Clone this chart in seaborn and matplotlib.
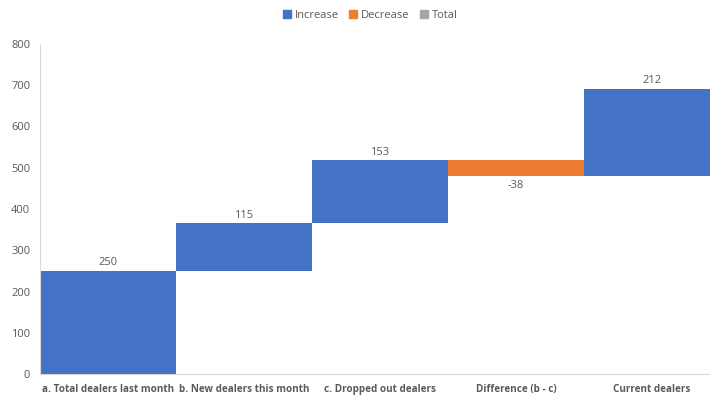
import numpy as np
import pandas as pd
import matplotlib
matplotlib.use("Agg")
import matplotlib.pyplot as plt
from matplotlib.lines import Line2D
import seaborn as sns

# Waterfall steps
categories = ["a. Total dealers last month", "b. New dealers this month",
              "c. Dropped out dealers", "Difference (b - c)", "Current dealers"]
changes = [250, 115, 153, -38, 212]
y_ticks = [0, 100, 200, 300, 400, 500, 600, 700, 800]

BLUE = "#4472C4"
ORANGE = "#ED7D31"
GRAY = "#A5A5A5"
TEXT = "#595959"

sns.set_theme(style="white")
plt.rcParams["font.family"] = ["Open Sans", "DejaVu Sans"]

changes_arr = np.array(changes, dtype=float)
bottoms = np.concatenate([[0.0], np.cumsum(changes_arr)[:-1]])
face = [BLUE if v >= 0 else ORANGE for v in changes_arr]
df = pd.DataFrame({"step": categories, "change": changes_arr})

fig = plt.figure(figsize=(7.10, 3.96), dpi=100)
ax = fig.add_axes([40 / 710, 22 / 396, 680 / 710, 330 / 396])

sns.barplot(data=df, x="step", y="change", order=categories, ax=ax,
            width=1.0, color=BLUE, saturation=1, bottom=bottoms,
            linewidth=0, errorbar=None)
for patch, c in zip(ax.patches, face):
    patch.set_facecolor(c)

# value labels: above rises, below drops
for i, (b, v) in enumerate(zip(bottoms, changes_arr)):
    if v >= 0:
        ax.annotate(f"{v:.0f}", (i, b + v), xytext=(0, 2), textcoords="offset points",
                    ha="center", va="bottom", fontsize=8, color=TEXT)
    else:
        ax.annotate(f"{v:.0f}", (i, b + v), xytext=(0, -3), textcoords="offset points",
                    ha="center", va="top", fontsize=8, color=TEXT)

ax.set_xlim(-0.5, len(categories) - 0.5)
ax.set_ylim(0, 800)
ax.set_yticks(y_ticks)
ax.set_yticklabels([str(t) for t in y_ticks])
ax.set_xlabel("")
ax.set_ylabel("")
ax.tick_params(axis="y", length=0, pad=7, labelsize=8, labelcolor=TEXT)
ax.tick_params(axis="x", length=0, pad=7, labelsize=7.1, labelcolor=TEXT)
for lbl in ax.get_xticklabels():
    lbl.set_fontweight("bold")

for side in ["top", "right"]:
    ax.spines[side].set_visible(False)
for side in ["left", "bottom"]:
    ax.spines[side].set_color("#D9D9D9")
    ax.spines[side].set_linewidth(0.8)

handles = [Line2D([], [], marker="s", linestyle="", markersize=6,
                  markerfacecolor=c, markeredgecolor=c) for c in (BLUE, ORANGE, GRAY)]
fig.legend(handles, ["Increase", "Decrease", "Total"], loc="center",
           bbox_to_anchor=(370 / 710, 1 - 15 / 396), ncol=3, frameon=False,
           fontsize=8, labelcolor=TEXT, handletextpad=0.3, columnspacing=0.9,
           handlelength=0.8)

fig.savefig("out.png", dpi=100)
